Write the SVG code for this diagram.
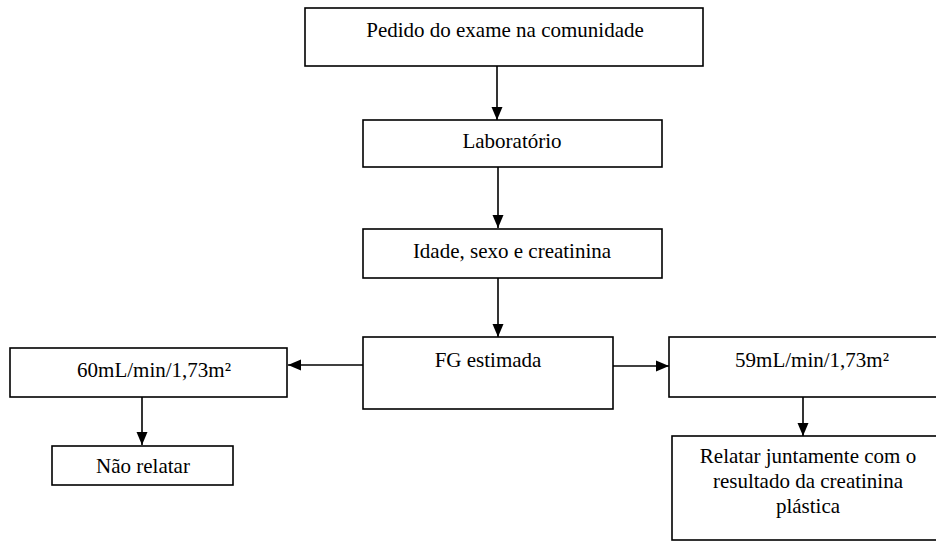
<svg xmlns="http://www.w3.org/2000/svg" width="936" height="542" viewBox="0 0 936 542">
<defs>
<marker id="ah" markerUnits="userSpaceOnUse" markerWidth="14" markerHeight="12" refX="13" refY="6" orient="auto">
<path d="M0,0.5 L13,6 L0,11.5 z" fill="#000"/>
</marker>
<style>
.box{fill:#fff;stroke:#000;stroke-width:1.6}
.t{font-size:21px;fill:#000;text-anchor:middle}
.c{stroke:#000;stroke-width:1.6;fill:none}
</style>
</defs>
<rect width="936" height="542" fill="#fff"/>
<g font-family="'Liberation Serif', 'Times New Roman', Times, serif">
<g id="n1"><rect class="box" x="305" y="8" width="398" height="58"/><text class="t" x="505" y="37">Pedido do exame na comunidade</text></g>
<g id="n2"><rect class="box" x="363" y="120" width="299" height="47"/><text class="t" x="512" y="148">Laboratório</text></g>
<g id="n3"><rect class="box" x="363" y="229" width="299" height="49"/><text class="t" x="512" y="258">Idade, sexo e creatinina</text></g>
<g id="n4"><rect class="box" x="363" y="337" width="250" height="72"/><text class="t" x="488" y="367">FG estimada</text></g>
<g id="n5"><rect class="box" x="10" y="348" width="277" height="49"/><text class="t" x="154" y="377">60mL/min/1,73m²</text></g>
<g id="n6"><rect class="box" x="52" y="446" width="181" height="39"/><text class="t" x="143" y="473">Não relatar</text></g>
<g id="n7"><rect class="box" x="669" y="337" width="280" height="60"/><text class="t" x="812" y="367">59mL/min/1,73m²</text></g>
<g id="n8"><rect class="box" x="672" y="436" width="280" height="104"/><text class="t" x="808" y="463">Relatar juntamente com o</text><text class="t" x="808" y="488">resultado da creatinina</text><text class="t" x="808" y="513">plástica</text></g>
</g>
<g id="connectors">
<line class="c" x1="497" y1="66" x2="497" y2="120" marker-end="url(#ah)"/>
<line class="c" x1="498" y1="167" x2="498" y2="228" marker-end="url(#ah)"/>
<line class="c" x1="498" y1="278" x2="498" y2="337" marker-end="url(#ah)"/>
<line class="c" x1="363" y1="365" x2="288" y2="365" marker-end="url(#ah)"/>
<line class="c" x1="613" y1="366" x2="669" y2="366" marker-end="url(#ah)"/>
<line class="c" x1="142" y1="397" x2="142" y2="445" marker-end="url(#ah)"/>
<line class="c" x1="803" y1="397" x2="803" y2="436" marker-end="url(#ah)"/>
</g>
</svg>
